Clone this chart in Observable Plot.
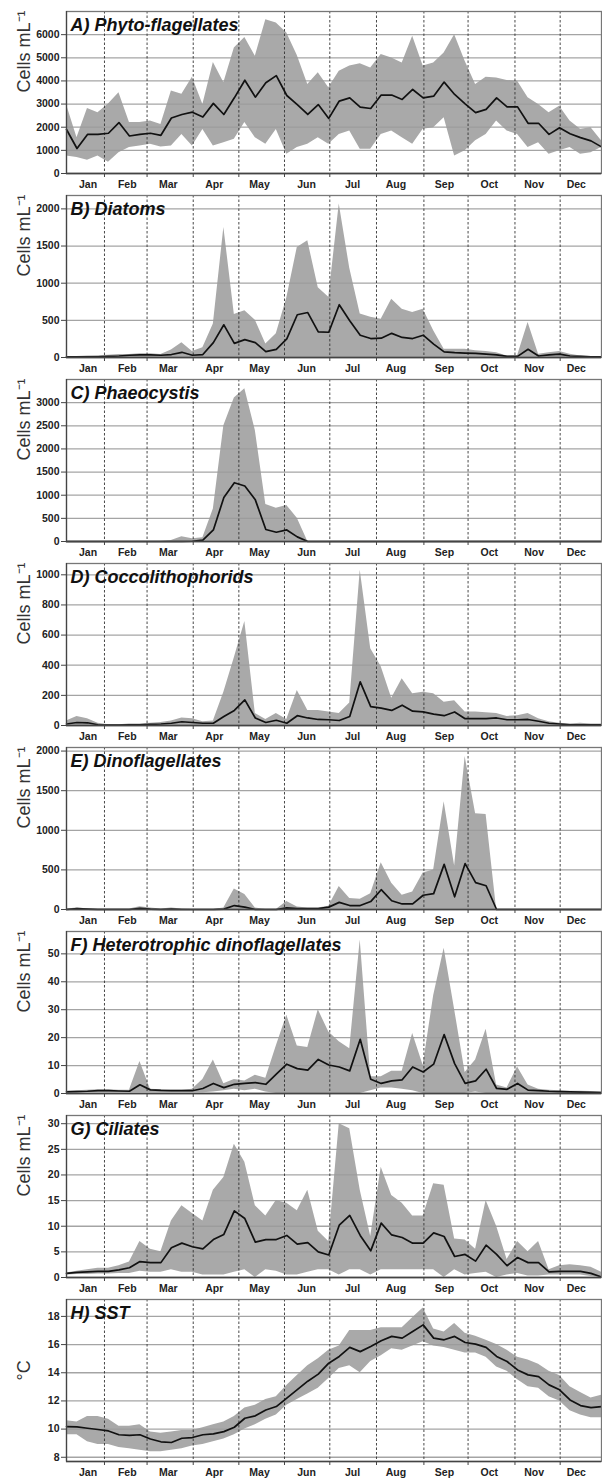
<!DOCTYPE html>
<html><head><meta charset="utf-8">
<script src="https://cdn.jsdelivr.net/npm/d3@7"></script>
<script src="https://cdn.jsdelivr.net/npm/@observablehq/plot@0.6"></script>
<style>
html,body{margin:0;padding:0;background:#fff;overflow:hidden;}
#chart{padding-top:7px;width:602px;}
#chart svg{display:block;}
</style></head><body><div id="chart"></div>
<script>
// x = week of year
const weeks = [1,2,3,4,5,6,7,8,9,10,11,12,13,14,15,16,17,18,19,20,21,22,23,24,25,26,27,28,29,30,31,32,33,34,35,36,37,38,39,40,41,42,43,44,45,46,47,48,49,50,51,52];
const monthNames = ["Jan","Feb","Mar","Apr","May","Jun","Jul","Aug","Sep","Oct","Nov","Dec"];
const monthStartWeeks = [4.62, 8.68, 13.08, 17.43, 21.78, 26.1, 30.55, 35.07, 39.28, 43.75, 48.06];
const monthLabelWeeks = [3.05, 6.79, 10.7, 15.09, 19.4, 23.88, 28.26, 32.4, 37.03, 41.3, 45.58, 49.6];

// A) Phyto-flagellates
const phytoMean = [1900,1080,1690,1690,1740,2200,1620,1690,1740,1650,2400,2550,2650,2440,3030,2550,3270,4030,3300,3920,4230,3370,2980,2550,2980,2380,3130,3270,2870,2810,3390,3390,3200,3630,3270,3340,3950,3415,3010,2630,2770,3270,2880,2880,2170,2170,1690,1980,1720,1550,1410,1150];
const phytoHigh = [2980,1550,2810,2620,3000,3490,2200,2200,2270,2120,3560,3420,4160,2980,4800,3920,5420,5880,5070,6640,6500,6070,5100,3850,4350,3700,4420,4640,4740,4560,5140,4990,4780,5930,4640,4780,5210,6000,4850,3850,4160,4130,4020,3990,3270,2980,2630,2910,2270,1910,1980,1410];
const phytoLow = [760,690,575,760,490,900,1120,1190,1260,1150,1190,1690,1190,1900,1190,1330,1480,2200,1550,1260,1900,830,1120,1260,1550,1260,1690,1840,1050,1050,1690,1840,1550,1260,1910,1980,2410,760,980,1410,1690,2270,1840,1690,1120,1330,830,980,1120,830,900,1120];
const phytoTicks = [0,1000,2000,3000,4000,5000,6000];

// B) Diatoms
const diatomMean = [10,10,10,10,15,20,30,35,35,30,40,70,30,40,200,440,190,240,200,80,110,250,575,605,345,340,710,495,300,255,260,325,270,255,300,180,75,65,60,55,45,35,15,15,110,20,35,45,20,15,10,10];
const diatomHigh = [15,15,20,25,30,40,40,50,50,40,100,200,80,130,450,1750,580,630,500,180,320,800,1480,1570,940,810,2065,1200,585,540,515,785,650,605,650,360,110,110,110,90,80,65,20,25,470,45,65,80,45,20,15,10];
const diatomLow = [0,0,0,0,0,0,0,0,0,0,0,0,0,0,0,0,0,0,0,0,0,0,0,0,0,0,0,0,0,0,0,0,0,0,0,0,0,0,0,0,0,0,0,0,0,0,0,0,0,0,0,0];
const diatomTicks = [0,500,1000,1500,2000];

// C) Phaeocystis
const phaeoMean = [0,0,0,0,0,0,0,0,0,0,0,0,5,30,250,950,1270,1200,900,260,200,250,100,0,0,0,0,0,0,0,0,0,0,0,0,0,0,0,0,0,0,0,0,0,0,0,0,0,0,0,0,0];
const phaeoHigh = [0,0,0,0,0,0,0,0,0,0,20,100,60,80,700,2500,3100,3300,2400,800,720,780,500,0,0,0,0,0,0,0,0,0,0,0,0,0,0,0,0,0,0,0,0,0,0,0,0,0,0,0,0,0];
const phaeoLow = [0,0,0,0,0,0,0,0,0,0,0,0,0,0,0,0,0,0,0,0,0,0,0,0,0,0,0,0,0,0,0,0,0,0,0,0,0,0,0,0,0,0,0,0,0,0,0,0,0,0,0,0];
const phaeoTicks = [0,500,1000,1500,2000,2500,3000];

// D) Coccolithophorids
const coccoMean = [10,20,18,5,3,3,5,5,8,10,15,25,20,15,15,60,100,170,50,20,35,15,65,50,40,38,33,60,290,125,115,100,135,95,90,75,65,90,45,45,45,50,38,38,40,28,15,10,5,5,5,5];
const coccoHigh = [30,60,45,15,5,5,10,10,15,20,30,50,45,25,30,220,450,690,80,40,80,40,233,100,100,90,80,150,1030,510,390,180,310,210,220,210,155,165,90,90,85,80,60,65,80,45,25,15,10,15,10,10];
const coccoLow = [0,0,0,0,0,0,0,0,0,0,0,0,0,0,0,0,0,0,0,0,0,0,0,0,0,0,0,0,0,0,0,0,0,0,0,0,0,0,0,0,0,0,0,0,0,0,0,0,0,0,0,0];
const coccoTicks = [0,200,400,600,800,1000];

// E) Dinoflagellates
const dinoMean = [0,10,5,0,0,0,0,15,5,0,5,0,0,0,0,5,50,30,0,0,0,20,10,10,10,30,90,50,50,100,250,110,70,70,180,200,570,160,580,340,300,0,0,0,0,0,0,0,0,0,0,0];
const dinoHigh = [5,20,10,5,5,5,5,35,20,5,20,5,0,0,0,20,260,190,20,0,0,100,30,20,20,40,290,140,130,200,590,330,180,220,460,500,1360,550,1930,1210,1200,0,0,0,0,0,0,0,0,0,0,0];
const dinoLow = [0,0,0,0,0,0,0,0,0,0,0,0,0,0,0,0,0,0,0,0,0,0,0,0,0,0,0,0,0,0,0,0,0,0,0,0,0,0,0,0,0,0,0,0,0,0,0,0,0,0,0,0];
const dinoTicks = [0,500,1000,1500,2000];

// F) Heterotrophic dinoflagellates
const hetMean = [0.6,0.7,0.8,1,1,0.9,0.8,3.1,1.3,1.1,1,1,1,1.8,3.6,2.1,3.3,3.6,3.9,3.3,6.9,10.5,8.9,8.4,12.2,10.2,9.5,8.1,19.4,5.1,3.6,4.5,4.9,9.5,7.7,10.5,21.1,10.7,3.6,4.5,8.7,1.8,1.5,3.6,1.2,1,0.8,0.7,0.6,0.5,0.4,0.3];
const hetHigh = [0.8,1,1.2,1.3,1.3,1.2,1.2,11.5,1.5,1.3,1.2,1.2,1.5,5,12,3.5,5,4.5,6.5,5.5,17,28,17,16.5,30,22,18.5,16,55,6,6,8,8,21.5,10,35,52,30,7.5,12,23,3,2,9.5,3,1.5,1.2,1,0.8,0.8,0.7,0.5];
const hetLow = [0.3,0.3,0.3,0.3,0.3,0.3,0.3,0.3,0.3,0.3,0.3,0.3,0.3,0.3,0.5,1,1.5,1,1.5,0.5,0,0,0,0,0,0,0,0,0,1,2,2,1.5,1,0,0,0,0,0,0.5,0,0,0,0,0,0,0,0,0,0,0,0];
const hetTicks = [0,10,20,30,40,50];

// G) Ciliates
const cilMean = [0.8,1,1.1,1.2,1.2,1.5,1.9,3.1,2.9,2.9,5.8,6.7,6,5.6,7.4,8.4,13,11.5,6.9,7.4,7.4,8.2,6.5,6.8,5,4.4,10.2,12.1,8.2,5.2,10.6,8.3,7.8,6.7,6.7,8.7,8,4.1,4.5,3.2,6.3,4.5,2.3,3.9,2.9,2.9,1.1,1.2,1.2,1.2,0.8,0.1];
const cilHigh = [0.9,1.2,1.5,1.8,1.8,2.3,3,7,5.5,5,11,14,12.5,11,17,19.5,26,22.5,14,12,15,14.5,13,17,9,7,30,29,17,8,21.5,16,14.5,12,12,18.3,18,7.5,7.3,5.5,15,10,3.5,7,5,7,1.5,2.3,2.5,2.3,2,1];
const cilLow = [0.5,0.6,0.6,0.7,0.7,0.8,0.8,1.2,1,1,1.5,1,1,0.5,0.5,0.5,1,1.5,0,1.5,1.2,0.5,0.5,1,1.5,1.5,0.5,1.5,1.5,0.5,1.5,1.5,1.5,1.5,1.5,1.5,0,1.5,0.5,0.8,1,0,0.5,0.8,0.3,0.3,0.5,0.5,0.5,0.5,0.2,0];
const cilTicks = [0,5,10,15,20,25,30];

// H) SST
const sstMean = [10.18,10.16,10.06,9.97,9.87,9.6,9.55,9.6,9.3,9.1,9.05,9.35,9.4,9.6,9.66,9.82,10.13,10.77,10.94,11.36,11.6,12.2,12.8,13.4,13.9,14.68,15.16,15.8,15.5,15.87,16.27,16.58,16.46,16.93,17.4,16.46,16.34,16.58,16.15,16.03,15.8,15.16,14.8,14.2,13.85,13.73,13.14,12.79,12.07,11.67,11.53,11.6];
const sstHigh = [10.6,10.5,10.9,10.9,10.7,10.2,10.2,10.3,9.8,9.7,9.8,9.9,9.9,10.1,10.3,10.5,10.9,11.5,11.7,12.1,12.3,13.1,13.8,14.5,15,15.6,15.9,17,17,17,17.2,17.2,17.2,17.9,18.6,17.1,16.9,17.5,16.8,16.6,16.3,16,15.6,15.1,14.9,14.6,14.1,13.8,13,12.6,12.2,12.4];
const sstLow = [9.6,9.6,9.1,8.9,8.9,8.7,8.6,8.5,8.4,8.4,8.5,8.6,8.8,8.9,9.1,9.3,9.6,10,10.3,10.7,11,11.7,12.1,12.5,12.9,13.6,14.3,14.5,14,14.8,15.2,15.7,15.6,15.9,16.2,15.9,15.8,15.6,15.4,15.4,15.1,14.4,14.1,13.5,13,12.9,12.3,12,11.3,11,10.8,10.8];
const sstTicks = [8,10,12,14,16,18];

const cellsLabel = "Cells mL\u207B\u00B9";
const panels = [
  {title: "A) Phyto-flagellates", unit: cellsLabel, mean: phytoMean, high: phytoHigh, low: phytoLow, domain: [0, 7000], ticks: phytoTicks},
  {title: "B) Diatoms", unit: cellsLabel, mean: diatomMean, high: diatomHigh, low: diatomLow, domain: [0, 2180], ticks: diatomTicks},
  {title: "C) Phaeocystis", unit: cellsLabel, mean: phaeoMean, high: phaeoHigh, low: phaeoLow, domain: [0, 3500], ticks: phaeoTicks},
  {title: "D) Coccolithophorids", unit: cellsLabel, mean: coccoMean, high: coccoHigh, low: coccoLow, domain: [0, 1075], ticks: coccoTicks},
  {title: "E) Dinoflagellates", unit: cellsLabel, mean: dinoMean, high: dinoHigh, low: dinoLow, domain: [0, 2045], ticks: dinoTicks},
  {title: "F) Heterotrophic dinoflagellates", unit: cellsLabel, mean: hetMean, high: hetHigh, low: hetLow, domain: [0, 58], ticks: hetTicks},
  {title: "G) Ciliates", unit: cellsLabel, mean: cilMean, high: cilHigh, low: cilLow, domain: [0, 31.6], ticks: cilTicks},
  {title: "H) SST", unit: "\u00B0C", mean: sstMean, high: sstHigh, low: sstLow, domain: [7.7, 19.2], ticks: sstTicks}
];

const font = "'Liberation Sans', Arial, Helvetica, sans-serif";

function panel(p, last) {
  const rows = weeks.map((w, i) => ({week: w, mean: p.mean[i], low: p.low[i], high: p.high[i]}));
  return Plot.plot({
    width: 602,
    height: last ? 183 : 184,
    marginTop: 4,
    marginBottom: last ? 17 : 18,
    marginLeft: 66,
    marginRight: 1,
    style: {fontFamily: font, background: "#fff", color: "#222", fontSize: "10px"},
    x: {domain: [1, 52]},
    y: {domain: p.domain},
    marks: [
      Plot.areaY(rows, {x: "week", y1: "low", y2: "high", fill: "#a9a9a9"}),
      Plot.gridY(p.ticks, {stroke: "#9a9a9a", strokeOpacity: 0.9, strokeWidth: 1.3}),
      Plot.ruleX(monthStartWeeks, {stroke: "#333", strokeWidth: 0.9, strokeDasharray: "2.5,2"}),
      Plot.line(rows, {x: "week", y: "mean", stroke: "#111", strokeWidth: 1.7}),
      Plot.frame({stroke: "#777", strokeWidth: 1.3}),
      Plot.ruleX([1], {stroke: "#444", strokeWidth: 1.2}),
      Plot.ruleY([p.domain[0]], {stroke: "#444", strokeWidth: 1.5}),
      Plot.axisY(p.ticks, {tickSize: 5, tickPadding: 2, fontSize: 10.5, fontWeight: "bold", label: null, stroke: "#444", fill: "#222", tickFormat: d => String(d)}),
      Plot.axisX(monthStartWeeks, {tickSize: 4, tickFormat: () => "", label: null, stroke: "#444"}),
      Plot.text(monthNames, {x: (d, i) => monthLabelWeeks[i], text: d => d, frameAnchor: "bottom", lineAnchor: "top", dy: 7.5, fontSize: 10.5, fontWeight: "bold", fill: "#222"}),
      Plot.text([p.title], {text: d => d, frameAnchor: "top-left", dx: 4, dy: 7, fontSize: 18, fontWeight: "bold", fontStyle: "italic", fill: "#111"}),
      Plot.text([p.unit], {text: d => d, frameAnchor: "left", dx: -42, rotate: -90, fontSize: 18, fill: "#333"})
    ]
  });
}

const root = document.getElementById("chart");
panels.forEach((p, i) => root.appendChild(panel(p, i === panels.length - 1)));
</script>
</body></html>
